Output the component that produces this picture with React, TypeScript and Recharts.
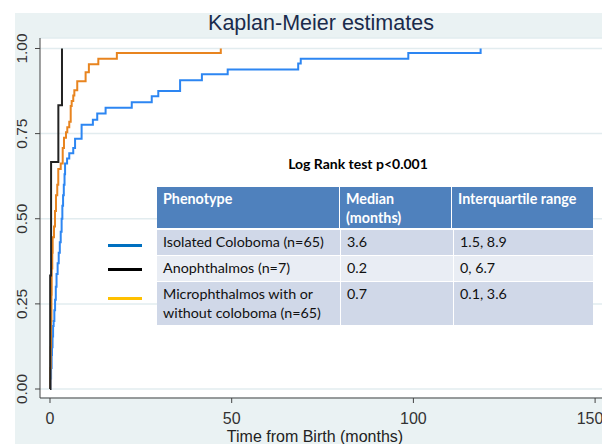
import React from 'react';
import { LineChart, Line, XAxis, YAxis, CartesianGrid } from 'recharts';

// Isolated Coloboma (n=65)
const colobomaTime = [0, 0.2, 0.3, 0.45, 0.55, 0.7, 0.85, 1.0, 1.2, 1.4, 1.6, 1.8, 2.1, 2.4, 2.7, 2.95, 3.2, 3.4, 3.6, 3.8, 4.0, 4.15, 4.7, 5.3, 6.4, 6.9, 8.7, 11.8, 13.0, 15.3, 22.5, 28.0, 29.8, 35.8, 41.8, 48.9, 68.3, 69.0, 98.6, 118.5];
const colobomaValue = [0, 0.031, 0.062, 0.1, 0.123, 0.154, 0.185, 0.2, 0.231, 0.262, 0.3, 0.338, 0.369, 0.4, 0.431, 0.462, 0.5, 0.538, 0.569, 0.6, 0.631, 0.662, 0.677, 0.692, 0.708, 0.735, 0.776, 0.791, 0.809, 0.826, 0.842, 0.86, 0.875, 0.907, 0.924, 0.938, 0.956, 0.97, 0.987, 1.0];

// Anophthalmos (n=7)
const anophTime = [0, 0.05, 0.3, 2.3, 3.3];
const anophValue = [0, 0.333, 0.667, 0.833, 1.0];

// Microphthalmos with or without coloboma (n=65)
const microTime = [0, 0.1, 0.2, 0.3, 0.4, 0.47, 0.63, 0.74, 1.1, 1.38, 1.65, 2.0, 2.28, 2.95, 3.5, 3.85, 4.4, 4.76, 5.3, 5.7, 5.97, 6.4, 6.7, 7.5, 9.8, 10.7, 13.3, 18.4, 47];
const microValue = [0, 0.062, 0.123, 0.2, 0.277, 0.354, 0.4, 0.446, 0.477, 0.523, 0.569, 0.6, 0.646, 0.662, 0.708, 0.738, 0.754, 0.769, 0.785, 0.831, 0.846, 0.862, 0.877, 0.904, 0.93, 0.954, 0.97, 0.987, 1.0];

const xTicks = [0, 50, 100, 150];
const yTicks = [0, 0.25, 0.5, 0.75, 1];

const tableHeader = ['Phenotype', 'Median\n(months)', 'Interquartile range'];
const tablePhenotypes = ['Isolated Coloboma (n=65)', 'Anophthalmos (n=7)', 'Microphthalmos with or\nwithout coloboma (n=65)'];
const tableMedians = ['3.6', '0.2', '0.7'];
const tableIQR = ['1.5, 8.9', '0, 6.7', '0.1, 3.6'];
const legendColors = ['#0070c0', '#000000', '#ffc000'];

const build = (ts: number[], vs: number[]) => ts.map((t, i) => ({ t, v: vs[i] }));
const colobomaData = build(colobomaTime, colobomaValue);
const anophData = build(anophTime, anophValue);
const microData = build(microTime, microValue);

const AXIS_FONT = '"Liberation Sans", Arial, sans-serif';
const TABLE_FONT = 'Lato, "Open Sans", sans-serif';

const YTick = (props: any) => {
  const { y, payload } = props;
  const bx = 27;
  return (
    <text x={bx} y={y} transform={`rotate(-90 ${bx} ${y})`} textAnchor="middle" fontSize={15.5} fill="#333" fontFamily={AXIS_FONT}>
      {Number(payload.value).toFixed(2)}
    </text>
  );
};

const rowBg = ['#d0d8e8', '#e9edf4', '#d0d8e8'];
const colW = [184, 113, 139];

export default function App() {
  return (
    <div style={{ position: 'absolute', left: 0, top: 0, width: 602, height: 444, background: '#fff', overflow: 'hidden' }}>
      <div style={{ position: 'absolute', left: 15, top: 13, width: 587, height: 431, background: '#eaf2f3' }} />
      <div style={{ position: 'absolute', left: 0, top: 0 }}>
        <LineChart width={602} height={444} margin={{ top: 38, right: 0, bottom: 0, left: 0 }}>
          <CartesianGrid vertical={false} horizontal={true} fill="#ffffff" stroke="#e2ecef" strokeWidth={1.5} />
          <XAxis
            dataKey="t"
            type="number"
            domain={[-2.75, 151.9]}
            ticks={xTicks}
            allowDataOverflow
            height={46}
            tickSize={5}
            tickMargin={10}
            stroke="#444"
            tick={{ fontSize: 16, fill: '#333', fontFamily: AXIS_FONT }}
            label={{ value: 'Time from Birth (months)', position: 'insideBottom', offset: 2, dx: -6, fontSize: 16, fill: '#222', fontFamily: AXIS_FONT }}
          />
          <YAxis
            type="number"
            domain={[-0.0264, 1.0308]}
            ticks={yTicks}
            allowDataOverflow
            width={40}
            tickSize={5}
            stroke="#444"
            tick={<YTick />}
          />
          <Line data={colobomaData} dataKey="v" type="stepAfter" stroke="#2d86f2" strokeWidth={2} dot={false} isAnimationActive={false} />
          <Line data={microData} dataKey="v" type="stepAfter" stroke="#e8841f" strokeWidth={2} dot={false} isAnimationActive={false} />
          <Line data={anophData} dataKey="v" type="stepAfter" stroke="#222222" strokeWidth={2} dot={false} isAnimationActive={false} />
        </LineChart>
      </div>
      <div style={{ position: 'absolute', left: 40, width: 562, top: 9, textAlign: 'center', fontFamily: AXIS_FONT, fontSize: 21.5, color: '#1a2b4c', lineHeight: '28px' }}>
        Kaplan-Meier estimates
      </div>
      <div style={{ position: 'absolute', left: 240, width: 236, top: 155, textAlign: 'center', fontFamily: TABLE_FONT, fontWeight: 700, fontSize: 14, color: '#000', lineHeight: '18px' }}>
        Log Rank test p&lt;0.001
      </div>
      {legendColors.map((c, i) => (
        <div key={i} style={{ position: 'absolute', left: 108, width: 34, top: [244, 268, 297][i], height: 3, background: c }} />
      ))}
      <div style={{ position: 'absolute', left: 157, top: 187, fontFamily: TABLE_FONT, fontSize: 14.3, lineHeight: '18.5px' }}>
        <div style={{ display: 'flex', height: 41, background: '#4f81bd', borderBottom: '2px solid #fff' }}>
          {tableHeader.map((h, j) => (
            <div key={j} style={{ width: colW[j] - (j < 2 ? 1 : 0), borderRight: j < 2 ? '1px solid #fff' : 'none', padding: '3px 0 0 6px', boxSizing: 'border-box', color: '#fff', fontWeight: 700, whiteSpace: 'pre' }}>{h}</div>
          ))}
        </div>
        {tablePhenotypes.map((p, i) => (
          <div key={i} style={{ display: 'flex', height: i === 2 ? 43 : 26, background: rowBg[i], borderBottom: i < 2 ? '1px solid #fff' : 'none', boxSizing: 'border-box' }}>
            {[p, tableMedians[i], tableIQR[i]].map((txt, j) => (
              <div key={j} style={{ width: colW[j], borderRight: j < 2 ? '1px solid #fff' : 'none', padding: '3px 0 0 6px', boxSizing: 'border-box', color: '#111', whiteSpace: 'pre' }}>{txt}</div>
            ))}
          </div>
        ))}
      </div>
    </div>
  );
}
